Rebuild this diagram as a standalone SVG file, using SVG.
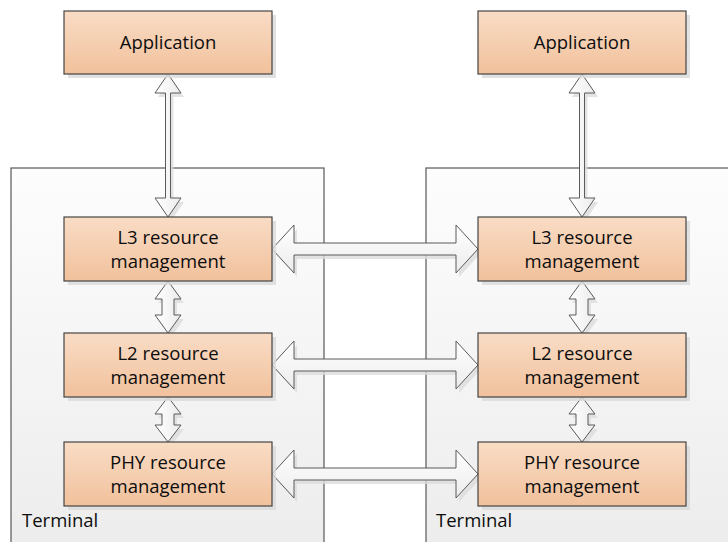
<svg xmlns="http://www.w3.org/2000/svg" width="728" height="542" viewBox="0 0 728 542">
  <defs>
    <linearGradient id="boxFill" x1="0" y1="0" x2="0" y2="1">
      <stop offset="0" stop-color="#f9dcc5"/>
      <stop offset="1" stop-color="#f1c19c"/>
    </linearGradient>
    <linearGradient id="termFill" x1="0" y1="0" x2="0" y2="1">
      <stop offset="0" stop-color="#fdfdfd"/>
      <stop offset="1" stop-color="#ececec"/>
    </linearGradient>
    <linearGradient id="arrowFill" x1="0" y1="0" x2="0" y2="1">
      <stop offset="0" stop-color="#ffffff"/>
      <stop offset="1" stop-color="#ececec"/>
    </linearGradient>
    <linearGradient id="arrowFillV" x1="0" y1="0" x2="1" y2="0">
      <stop offset="0" stop-color="#ffffff"/>
      <stop offset="1" stop-color="#ececec"/>
    </linearGradient>
    <!-- horizontal double arrow, 206 long, centred on y=0 -->
    <path id="hArrow" d="M0,0 L22,-24 L22,-6 L184,-6 L184,-24 L206,0 L184,24 L184,6 L22,6 L22,24 Z"/>
    <!-- long vertical double arrow, 143 long -->
    <path id="vLong" d="M0,0 L13,19 L2.5,19 L2.5,124 L13,124 L0,143 L-13,124 L-2.5,124 L-2.5,19 L-13,19 Z"/>
    <!-- short vertical double arrows -->
    <path id="vShort52" d="M0,0 L13,18 L6,18 L6,34 L13,34 L0,52 L-13,34 L-6,34 L-6,18 L-13,18 Z"/>
    <path id="vShort45" d="M0,0 L13,17 L6,17 L6,28 L13,28 L0,45 L-13,28 L-6,28 L-6,17 L-13,17 Z"/>
  </defs>
  <style>
    .term { fill: url(#termFill); stroke: #585858; stroke-width: 1.2; }
    .box { fill: url(#boxFill); stroke: #444444; stroke-width: 1.2; }
    .shadow { fill: #d9d9d9; stroke: none; opacity: 0.8; }
    .arr { fill: url(#arrowFill); stroke: #5a5a5a; stroke-width: 1; stroke-linejoin: miter; }
    .arrv { fill: url(#arrowFillV); stroke: #5a5a5a; stroke-width: 1; stroke-linejoin: miter; }
    .ashadow { fill: #dcdcdc; stroke: none; opacity: 0.8; }
    text { font-family: "Open Sans", "Liberation Sans", sans-serif; font-size: 18.5px; fill: #0d0d0d; }
    .c { text-anchor: middle; }
  </style>

  <rect width="728" height="542" fill="#ffffff"/>

  <!-- terminal containers -->
  <g id="terminal-left">
    <rect class="term" x="11" y="168" width="313" height="390"/>
    <text x="22" y="527">Terminal</text>
  </g>
  <g id="terminal-right">
    <rect class="term" x="426" y="168" width="320" height="390"/>
    <text x="436" y="527">Terminal</text>
  </g>

  <!-- connectors -->
  <g id="connectors">
    <!-- shadows -->
    <use href="#vLong" class="ashadow" x="171" y="78"/>
    <use href="#vLong" class="ashadow" x="585" y="78"/>
    <use href="#vShort52" class="ashadow" x="171" y="285"/>
    <use href="#vShort52" class="ashadow" x="585" y="285"/>
    <use href="#vShort45" class="ashadow" x="171" y="401"/>
    <use href="#vShort45" class="ashadow" x="585" y="401"/>
    <use href="#hArrow" class="ashadow" x="275" y="253"/>
    <use href="#hArrow" class="ashadow" x="275" y="369"/>
    <use href="#hArrow" class="ashadow" x="275" y="478"/>
    <!-- arrows -->
    <use href="#vLong" class="arrv" x="168" y="74"/>
    <use href="#vLong" class="arrv" x="582" y="74"/>
    <use href="#vShort52" class="arrv" x="168" y="281"/>
    <use href="#vShort52" class="arrv" x="582" y="281"/>
    <use href="#vShort45" class="arrv" x="168" y="397"/>
    <use href="#vShort45" class="arrv" x="582" y="397"/>
    <use href="#hArrow" class="arr" x="272" y="249"/>
    <use href="#hArrow" class="arr" x="272" y="365"/>
    <use href="#hArrow" class="arr" x="272" y="474"/>
  </g>

  <!-- left stack -->
  <g id="app-left">
    <rect class="shadow" x="68" y="15" width="208" height="63"/>
    <rect class="box" x="64" y="11" width="208" height="63"/>
    <text class="c" x="168" y="49">Application</text>
  </g>
  <g id="l3-left">
    <rect class="shadow" x="68" y="221" width="208" height="64"/>
    <rect class="box" x="64" y="217" width="208" height="64"/>
    <text class="c" x="168" y="244">L3 resource</text>
    <text class="c" x="168" y="268">management</text>
  </g>
  <g id="l2-left">
    <rect class="shadow" x="68" y="337" width="208" height="64"/>
    <rect class="box" x="64" y="333" width="208" height="64"/>
    <text class="c" x="168" y="360">L2 resource</text>
    <text class="c" x="168" y="384">management</text>
  </g>
  <g id="phy-left">
    <rect class="shadow" x="68" y="446" width="208" height="64"/>
    <rect class="box" x="64" y="442" width="208" height="64"/>
    <text class="c" x="168" y="469">PHY resource</text>
    <text class="c" x="168" y="493">management</text>
  </g>

  <!-- right stack -->
  <g id="app-right">
    <rect class="shadow" x="482" y="15" width="208" height="63"/>
    <rect class="box" x="478" y="11" width="208" height="63"/>
    <text class="c" x="582" y="49">Application</text>
  </g>
  <g id="l3-right">
    <rect class="shadow" x="482" y="221" width="208" height="64"/>
    <rect class="box" x="478" y="217" width="208" height="64"/>
    <text class="c" x="582" y="244">L3 resource</text>
    <text class="c" x="582" y="268">management</text>
  </g>
  <g id="l2-right">
    <rect class="shadow" x="482" y="337" width="208" height="64"/>
    <rect class="box" x="478" y="333" width="208" height="64"/>
    <text class="c" x="582" y="360">L2 resource</text>
    <text class="c" x="582" y="384">management</text>
  </g>
  <g id="phy-right">
    <rect class="shadow" x="482" y="446" width="208" height="64"/>
    <rect class="box" x="478" y="442" width="208" height="64"/>
    <text class="c" x="582" y="469">PHY resource</text>
    <text class="c" x="582" y="493">management</text>
  </g>
</svg>
